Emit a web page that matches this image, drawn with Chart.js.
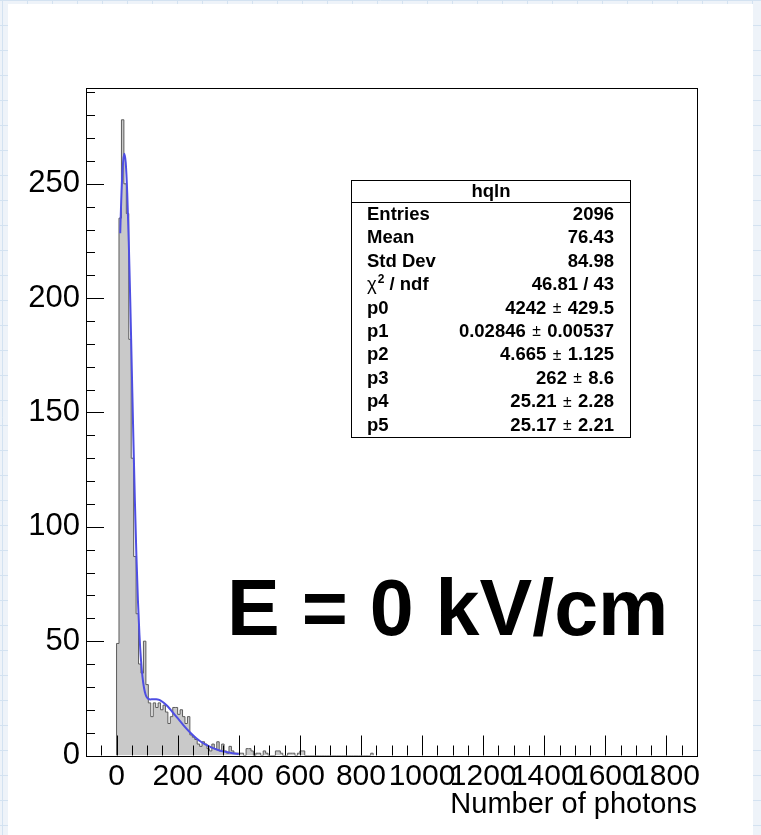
<!DOCTYPE html>
<html><head><meta charset="utf-8">
<script src="https://cdn.jsdelivr.net/npm/chart.js@4.4.0/dist/chart.umd.min.js"></script>
<style>
html,body{margin:0;padding:0;background:#fff;}
#wrap{position:relative;width:761px;height:835px;}
canvas{display:block;}
</style></head><body>
<div id="wrap"><canvas id="c" width="761" height="835"></canvas></div>
<script>
// ---------------- data ----------------
const binWidth = 8;      // histogram bin width (photons)
const binStart = 0;      // low edge of first bin
const counts = [
  49,235,278,250,237,182,130,87,62,40,
  36,50,31,23,17,23,21,23,20,22,
  19,14,17,21,21,18,20,17,14,17,
  9,8,7,5,4,6,5,3,2,5,
  3,6,2,5,2,1,4,2,1,1,
  1,1,0,3,3,2,0,1,1,0,
  2,1,0,0,0,2,2,1,0,0,
  1,1,1,0,1,2,2,0,0,0,
  0,0,0,0,0,0,0,0,0,0,
  0,0,0,0,0,0,0,0,0,0,
  0,0,0,0,1
];
const fitX = [12,15,20,25,30,35,40,45,50,55,60,65,70,75,80,85,90,95,100,110,120,130,140,150,160,170,180,190,200,220,240,260,280,300,320,340,360,380,400];
const fitY = [228.4,241.5,257,263.2,259.3,245.9,224.7,198,168.5,139,111.4,87.4,67.8,52.7,41.7,34.3,29.5,26.7,25.3,24.5,24.6,24.6,24.3,23.5,22.4,21.1,19.5,17.9,16.3,13.1,10.2,7.7,5.7,4.2,3.0,2.1,1.5,1.0,0.7];
const xMajorTicks = [0,200,400,600,800,1000,1200,1400,1600,1800];
const yMajorTicks = [0,50,100,150,200,250];
const xRange = [-100, 1900];
const yRange = [0, 291.9];
const xMinorStep = 50, yMinorStep = 10;
const xTitle = 'Number of photons';
const statsTitle = 'hqln';
const statLabels = ['Entries','Mean','Std Dev','CHI2','p0','p1','p2','p3','p4','p5'];
const statValues = ['2096','76.43','84.98','46.81 / 43','4242 ± 429.5','0.02846 ± 0.00537','4.665 ± 1.125','262 ± 8.6','25.21 ± 2.28','25.17 ± 2.21'];
const annotation = 'E = 0 kV/cm';

// ---------------- chart ----------------
const FONT = "'Liberation Sans', Arial, Helvetica, sans-serif";
Chart.defaults.font.family = FONT;

const histPoints = [{x: binStart, y: 0}];
counts.forEach((c, i) => histPoints.push({x: binStart + (i + 1) * binWidth, y: c}));
histPoints.push({x: binStart + counts.length * binWidth, y: 0});
const fitPoints = fitX.map((x, i) => ({x: x, y: fitY[i]}));

const bgPlugin = {
  id: 'bg',
  beforeDraw(chart) {
    const ctx = chart.ctx, W = chart.width, H = chart.height;
    ctx.save();
    ctx.fillStyle = '#eef3f9';
    ctx.fillRect(0, 0, W, H);
    ctx.strokeStyle = '#d3e2f1';
    ctx.lineWidth = 1;
    for (let x = 2.5; x < W; x += 25) { ctx.beginPath(); ctx.moveTo(x, 0); ctx.lineTo(x, H); ctx.stroke(); }
    for (let y = 0.5; y < H; y += 25) { ctx.beginPath(); ctx.moveTo(0, y); ctx.lineTo(W, y); ctx.stroke(); }
    ctx.fillStyle = '#ffffff';
    ctx.fillRect(8, 4, 745, H - 4);
    ctx.restore();
  }
};

const framePlugin = {
  id: 'frame',
  afterDatasetsDraw(chart) {
    const ctx = chart.ctx, a = chart.chartArea;
    const xs = chart.scales.x, ys = chart.scales.y;
    ctx.save();
    ctx.strokeStyle = '#000';
    ctx.lineWidth = 1;
    for (let v = Math.ceil(xRange[0] / xMinorStep) * xMinorStep; v < xRange[1]; v += xMinorStep) {
      if (v <= xRange[0]) continue;
      const px = Math.round(xs.getPixelForValue(v)) + 0.5;
      const len = xMajorTicks.includes(v) ? 20 : 10;
      ctx.beginPath(); ctx.moveTo(px, a.bottom); ctx.lineTo(px, a.bottom - len); ctx.stroke();
    }
    for (let v = yRange[0] + yMinorStep; v < yRange[1]; v += yMinorStep) {
      const py = Math.round(ys.getPixelForValue(v)) + 0.5;
      const len = yMajorTicks.includes(v) ? 18 : 9;
      ctx.beginPath(); ctx.moveTo(a.left, py); ctx.lineTo(a.left + len, py); ctx.stroke();
    }
    ctx.strokeRect(Math.round(a.left) + 0.5, Math.round(a.top) + 0.5, Math.round(a.right - a.left), Math.round(a.bottom - a.top));
    ctx.restore();
  }
};

function drawValue(ctx, str, xr, y, size) {
  const parts = str.split(' ± ');
  const bold = 'bold ' + size + 'px ' + FONT;
  const pm = (size * 0.85) + 'px ' + FONT;
  if (parts.length === 1) {
    ctx.font = bold; ctx.textAlign = 'right'; ctx.fillText(str, xr, y); return;
  }
  ctx.textAlign = 'left';
  const sep = ' ± ';
  ctx.font = bold; const w2 = ctx.measureText(parts[1]).width;
  ctx.font = pm; const wpm = ctx.measureText(sep).width + 4;
  ctx.font = bold; const w1 = ctx.measureText(parts[0]).width;
  let x = xr - w2 - wpm - w1;
  ctx.font = bold; ctx.fillText(parts[0], x, y); x += w1;
  ctx.font = pm; ctx.fillText(sep, x + 2, y); x += wpm;
  ctx.font = bold; ctx.fillText(parts[1], x, y);
}

const statsPlugin = {
  id: 'stats',
  afterDraw(chart) {
    const ctx = chart.ctx;
    ctx.save();
    const L = 351.5, T = 180.5, R = 630.5, B = 437.5;
    ctx.fillStyle = '#fff';
    ctx.fillRect(L, T, R - L, B - T);
    ctx.strokeStyle = '#000'; ctx.lineWidth = 1;
    ctx.strokeRect(L, T, R - L, B - T);
    ctx.beginPath(); ctx.moveTo(L, 202.5); ctx.lineTo(R, 202.5); ctx.stroke();
    ctx.fillStyle = '#000';
    ctx.textBaseline = 'middle';
    const fs = 18.5;
    ctx.font = 'bold ' + fs + 'px ' + FONT;
    ctx.textAlign = 'center';
    ctx.fillText(statsTitle, (L + R) / 2, 191.5);
    statLabels.forEach((lab, i) => {
      const y = 215 + 23.4 * i;
      ctx.textAlign = 'left';
      if (lab === 'CHI2') {
        ctx.font = fs + 'px ' + FONT;
        ctx.fillText('χ', 367, y);
        let x = 367 + ctx.measureText('χ').width + 1;
        ctx.font = 'bold ' + Math.round(fs * 0.65) + 'px ' + FONT;
        ctx.fillText('2', x, y - 6);
        x += ctx.measureText('2').width;
        ctx.font = 'bold ' + fs + 'px ' + FONT;
        ctx.fillText(' / ndf', x, y);
      } else {
        ctx.font = 'bold ' + fs + 'px ' + FONT;
        ctx.fillText(lab, 367, y);
      }
      drawValue(ctx, statValues[i], 614, y, fs);
    });
    ctx.textAlign = 'left';
    ctx.textBaseline = 'alphabetic';
    ctx.font = 'bold 79px ' + FONT;
    ctx.fillText(annotation, 227, 635);
    ctx.restore();
  }
};

new Chart(document.getElementById('c'), {
  type: 'line',
  data: {
    datasets: [
      {
        label: 'hist', data: histPoints, stepped: 'after', fill: 'origin',
        backgroundColor: '#c9c9c9', borderColor: '#5c5c5c', borderWidth: 1,
        pointRadius: 0, order: 2
      },
      {
        label: 'fit', data: fitPoints, fill: false, cubicInterpolationMode: 'monotone',
        borderColor: '#4e4ee3', borderWidth: 2, pointRadius: 0, order: 1
      }
    ]
  },
  options: {
    responsive: false, animation: false, devicePixelRatio: 1,
    layout: {padding: {left: 0, right: 64, top: 88, bottom: 0}},
    plugins: {legend: {display: false}, tooltip: {enabled: false}},
    scales: {
      x: {
        type: 'linear', min: xRange[0], max: xRange[1],
        afterBuildTicks: s => { s.ticks = xMajorTicks.map(v => ({value: v})); },
        afterFit: s => { s.height = 835 - 755.5; },
        grid: {display: false, drawTicks: false},
        border: {display: false},
        ticks: {font: {size: 30}, color: '#000', padding: 3, maxRotation: 0, autoSkip: false, callback: v => String(v)},
        title: {display: true, text: xTitle, align: 'end', color: '#000', font: {size: 29}, padding: {top: 0, bottom: 13}}
      },
      y: {
        type: 'linear', min: yRange[0], max: yRange[1],
        afterBuildTicks: s => { s.ticks = yMajorTicks.map(v => ({value: v})); },
        afterFit: s => { s.width = 86; },
        grid: {display: false, drawTicks: false},
        border: {display: false},
        ticks: {font: {size: 31}, color: '#000', padding: 6, autoSkip: false, callback: v => String(v)}
      }
    }
  },
  plugins: [bgPlugin, framePlugin, statsPlugin]
});
</script>
</body></html>
